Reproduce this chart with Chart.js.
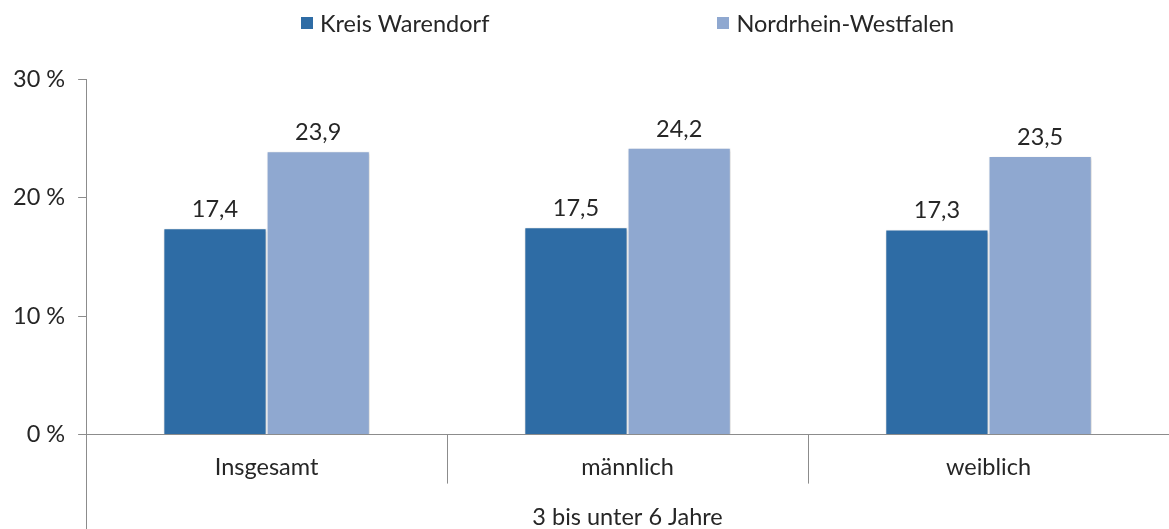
<!DOCTYPE html>
<html>
<head>
<meta charset="utf-8">
<script src="https://cdn.jsdelivr.net/npm/chart.js@4"></script>
<style>
  html, body { margin: 0; padding: 0; background: #fff; }
  #wrap { width: 1169px; height: 529px; position: relative; }
</style>
</head>
<body>
<div id="wrap"><canvas id="chart"></canvas></div>
<script>
// Daten
const categories = ['Insgesamt', 'männlich', 'weiblich'];
const groupLabel = '3 bis unter 6 Jahre';
const seriesNames = ['Kreis Warendorf', 'Nordrhein-Westfalen'];
const warendorfValues = [17.4, 17.5, 17.3];
const nrwValues = [23.9, 24.2, 23.5];
const yMin = 0, yMax = 30, yStep = 10;

const FONT = 'Lato, "Open Sans", sans-serif';
const FONT_SIZE = 23.5;
const TEXT_COLOR = '#262626';
const AXIS_COLOR = '#8c8c8c';
const COLORS = ['#2e6ca5', '#8fa8d0'];

function fmt(v) {
    return v.toFixed(1).replace('.', ',');
}

// Schatten unter den Balken
const barShadow = {
    id: 'barShadow',
    beforeDatasetsDraw(chart) {
        const ctx = chart.ctx;
        ctx.save();
        ctx.shadowColor = 'rgba(0,0,0,0.22)';
        ctx.shadowBlur = 3;
        ctx.shadowOffsetX = 1;
        ctx.shadowOffsetY = 1;
    },
    afterDatasetsDraw(chart) {
        chart.ctx.restore();
    }
};

// Werte über den Balken, Trennstriche, Legende
const extras = {
    id: 'extras',
    afterDraw(chart) {
        const ctx = chart.ctx;
        const area = chart.chartArea;
        ctx.save();

        // Werte
        ctx.font = FONT_SIZE + 'px ' + FONT;
        ctx.fillStyle = TEXT_COLOR;
        ctx.textAlign = 'center';
        ctx.textBaseline = 'bottom';
        chart.data.datasets.forEach((ds, di) => {
            chart.getDatasetMeta(di).data.forEach((bar, i) => {
                ctx.fillText(fmt(ds.data[i]), bar.x, bar.y - 7);
            });
        });

        // Trennstriche zwischen den Kategorien
        ctx.strokeStyle = AXIS_COLOR;
        ctx.lineWidth = 1;
        const n = categories.length;
        const step = (area.right - area.left) / n;
        for (let i = 1; i < n; i++) {
            const x = Math.round(area.left + i * step) + 0.5;
            ctx.beginPath();
            ctx.moveTo(x, area.bottom);
            ctx.lineTo(x, area.bottom + 49);
            ctx.stroke();
        }
        // y-Achse bis nach unten verlängern
        const x0 = Math.round(area.left) + 0.5;
        ctx.beginPath();
        ctx.moveTo(x0, area.bottom);
        ctx.lineTo(x0, chart.height);
        ctx.stroke();

        // Legende
        ctx.font = FONT_SIZE + 'px ' + FONT;
        ctx.textAlign = 'left';
        ctx.textBaseline = 'middle';
        const box = 12, gap = 7, itemGap = 228;
        const widths = seriesNames.map(s => box + gap + ctx.measureText(s).width);
        const total = widths.reduce((a, b) => a + b, 0) + itemGap * (widths.length - 1);
        let x = (area.left + area.right) / 2 - total / 2;
        const y = 23;
        seriesNames.forEach((s, i) => {
            ctx.fillStyle = COLORS[i];
            ctx.fillRect(Math.round(x), y - box / 2, box, box);
            ctx.fillStyle = TEXT_COLOR;
            ctx.fillText(s, x + box + gap, y + 1);
            x += widths[i] + itemGap;
        });
        ctx.restore();
    }
};

const ctx = document.getElementById('chart');
new Chart(ctx, {
    type: 'bar',
    data: {
        labels: categories,
        datasets: [
            {
                label: seriesNames[0],
                data: warendorfValues,
                backgroundColor: COLORS[0],
                borderColor: '#ffffff',
                borderWidth: 1
            },
            {
                label: seriesNames[1],
                data: nrwValues,
                backgroundColor: COLORS[1],
                borderColor: '#ffffff',
                borderWidth: 1
            }
        ]
    },
    options: {
        responsive: true,
        maintainAspectRatio: false,
        animation: false,
        layout: {
            padding: { top: 79, left: 0, right: 0, bottom: 0 }
        },
        datasets: {
            bar: {
                categoryPercentage: 0.572,
                barPercentage: 1
            }
        },
        scales: {
            x: {
                grid: { display: true, drawOnChartArea: false, drawTicks: false },
                border: { display: true, color: AXIS_COLOR, width: 1 },
                ticks: {
                    padding: 19,
                    color: TEXT_COLOR,
                    font: { family: FONT, size: FONT_SIZE }
                },
                title: {
                    display: true,
                    text: groupLabel,
                    color: TEXT_COLOR,
                    font: { family: FONT, size: FONT_SIZE },
                    padding: { top: 3, bottom: -3 }
                }
            },
            y: {
                min: yMin,
                max: yMax,
                grid: {
                    display: true,
                    drawOnChartArea: false,
                    drawTicks: true,
                    tickLength: 8,
                    color: AXIS_COLOR
                },
                border: { display: true, color: AXIS_COLOR, width: 1 },
                ticks: {
                    stepSize: yStep,
                    padding: 13,
                    color: TEXT_COLOR,
                    font: { family: FONT, size: FONT_SIZE },
                    callback: function(value) {
                        return value + ' %';
                    }
                }
            }
        },
        plugins: {
            legend: { display: false },
            tooltip: { enabled: false }
        }
    },
    plugins: [barShadow, extras]
});
</script>
</body>
</html>
